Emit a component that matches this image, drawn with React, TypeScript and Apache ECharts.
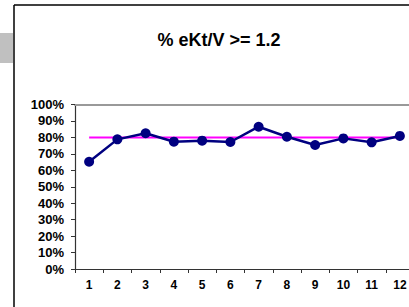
import React, { useEffect, useRef } from "react";
import * as echarts from "echarts";

const categories = ["1", "2", "3", "4", "5", "6", "7", "8", "9", "10", "11", "12"];
const pctValues = [65.2, 78.8, 82.5, 77.4, 78.0, 77.2, 86.5, 80.4, 75.4, 79.4, 77.0, 80.9];
const targetValues = [80, 80, 80, 80, 80, 80, 80, 80, 80, 80, 80, 80];
const titleText = "% eKt/V >= 1.2";

const FONT = "'Liberation Sans', Arial, sans-serif";

export default function App() {
  const ref = useRef<HTMLDivElement>(null);
  useEffect(() => {
    if (!ref.current) return;
    document.documentElement.style.overflow = "hidden";
    document.body.style.margin = "0";
    document.body.style.overflow = "hidden";
    const chart = echarts.init(ref.current, null, { renderer: "svg" });
    chart.setOption({
      animation: false,
      backgroundColor: "#ffffff",
      title: {
        text: titleText,
        left: 214,
        top: 26,
        textAlign: "center",
        textStyle: { fontFamily: FONT, fontSize: 18, fontWeight: "bold", color: "#000" },
      },
      graphic: [
        {
          type: "rect",
          shape: { x: 0, y: 33, width: 13, height: 30 },
          style: { fill: "#c0c0c0" },
          z: 1,
        },
        {
          type: "line",
          shape: { x1: 14, y1: 5, x2: 420, y2: 5 },
          style: { stroke: "#000", lineWidth: 1.5 },
          z: 1,
        },
        {
          type: "line",
          shape: { x1: 14, y1: 5, x2: 14, y2: 320 },
          style: { stroke: "#000", lineWidth: 1.5 },
          z: 1,
        },
      ],
      grid: {
        left: 75,
        top: 104.5,
        width: 339,
        height: 164.5,
        containLabel: false,
        outerBoundsMode: "none",
      },
      xAxis: [
        {
          type: "category",
          data: categories,
          boundaryGap: true,
          position: "bottom",
          axisLine: { lineStyle: { color: "#333", width: 1.2 } },
          axisTick: { show: true, length: 4, inside: false, lineStyle: { color: "#333" } },
          axisLabel: {
            fontFamily: FONT,
            fontSize: 12,
            fontWeight: "bold",
            color: "#000",
            margin: 10,
            interval: 0,
            hideOverlap: false,
          },
          splitLine: { show: false },
        },
        {
          type: "category",
          data: categories,
          position: "top",
          axisLine: { lineStyle: { color: "#999", width: 2 } },
          axisTick: { show: false },
          axisLabel: { show: false },
          splitLine: { show: false },
        },
      ],
      yAxis: {
        type: "value",
        min: 0,
        max: 100,
        interval: 10,
        axisLine: { show: true, lineStyle: { color: "#333", width: 1.2 } },
        axisTick: { show: true, length: 4, inside: false, lineStyle: { color: "#333" } },
        axisLabel: {
          formatter: "{value}%",
          fontFamily: FONT,
          fontSize: 13,
          fontWeight: "bold",
          color: "#000",
          margin: 11,
        },
        splitLine: { show: false },
      },
      series: [
        {
          type: "line",
          data: targetValues,
          symbol: "none",
          lineStyle: { color: "#ff00ff", width: 2 },
          z: 2,
        },
        {
          type: "line",
          data: pctValues,
          symbol: "circle",
          symbolSize: 10,
          itemStyle: { color: "#000080" },
          lineStyle: { color: "#000080", width: 2.5 },
          z: 3,
        },
      ],
    });
    return () => chart.dispose();
  }, []);
  return (
    <div
      ref={ref}
      style={{ position: "fixed", left: 0, top: 0, width: 409, height: 307 }}
    />
  );
}
